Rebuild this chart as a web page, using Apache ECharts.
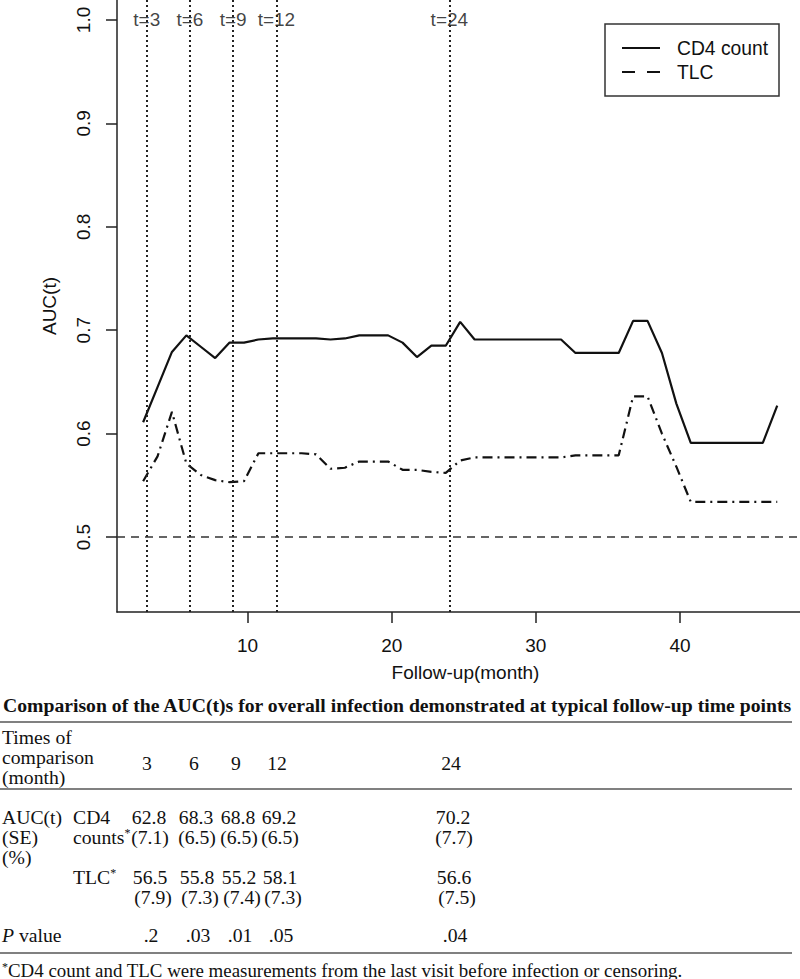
<!DOCTYPE html>
<html><head><meta charset="utf-8">
<script src="https://cdn.jsdelivr.net/npm/echarts@6/dist/echarts.min.js"></script>
<style>html,body{margin:0;padding:0;background:#fff}#c{width:800px;height:979px}</style>
</head><body><div id="c"></div>
<script>
// ---- data ----
const months = [2.75,3.75,4.75,5.75,6.75,7.75,8.75,9.75,10.75,11.75,12.75,13.75,14.75,15.75,16.75,17.75,18.75,19.75,20.75,21.75,22.75,23.75,24.75,25.75,26.75,27.75,28.75,29.75,30.75,31.75,32.75,33.75,34.75,35.75,36.75,37.75,38.75,39.75,40.75,41.75,42.75,43.75,44.75,45.75,46.75];
const cd4Auc = [0.611,0.645,0.679,0.695,0.684,0.673,0.688,0.688,0.691,0.692,0.692,0.692,0.692,0.691,0.692,0.695,0.695,0.695,0.688,0.674,0.685,0.685,0.708,0.691,0.691,0.691,0.691,0.691,0.691,0.691,0.678,0.678,0.678,0.678,0.709,0.709,0.678,0.629,0.591,0.591,0.591,0.591,0.591,0.591,0.627];
const tlcAuc = [0.554,0.578,0.621,0.571,0.560,0.555,0.553,0.554,0.581,0.581,0.581,0.581,0.580,0.566,0.567,0.573,0.573,0.573,0.565,0.565,0.563,0.562,0.574,0.577,0.577,0.577,0.577,0.577,0.577,0.577,0.579,0.579,0.579,0.579,0.636,0.636,0.600,0.568,0.534,0.534,0.534,0.534,0.534,0.534,0.534];
const cutTimes = [3,6,9,12,24];
const refLine = 0.5;
const xTicks = [10,20,30,40];
const yTicks = [0.5,0.6,0.7,0.8,0.9,1.0];
const seriesNames = ['CD4 count','TLC'];

const tableTitle = 'Comparison of the AUC(t)s for overall infection demonstrated at typical follow-up time points';
const tableTimes = ['3','6','9','12','24'];
const cd4Est = ['62.8','68.3','68.8','69.2','70.2'];
const cd4Se = ['(7.1)','(6.5)','(6.5)','(6.5)','(7.7)'];
const tlcEst = ['56.5','55.8','55.2','58.1','56.6'];
const tlcSe = ['(7.9)','(7.3)','(7.4)','(7.3)','(7.5)'];
const pValues = ['.2','.03','.01','.05','.04'];
const footnote = 'CD4 count and TLC were measurements from the last visit before infection or censoring.';

// ---- styling ----
const sans = '"Liberation Sans", Arial, Helvetica, sans-serif';
const serif = '"Liberation Serif", "Times New Roman", serif';
const ink = '#111';
const axisCol = '#222';

const chart = echarts.init(document.getElementById('c'), null, {renderer: 'svg'});

const colX = [149, 196, 238, 279, 453];
const fs = 19;
const tfs = 19.7;

function T(x, y, text, o) {
  o = o || {};
  return {
    type: 'text', x: x, y: y, silent: true,
    style: {
      text: text, fill: ink,
      font: (o.style || 'normal') + ' ' + (o.weight || 'normal') + ' ' + (o.size || tfs) + 'px ' + (o.family || serif),
      textAlign: o.align || 'left', textVerticalAlign: 'middle',
      rich: o.rich
    }
  };
}
function supRich(size) {
  return {
    a: {fontFamily: serif, fontSize: size || tfs, color: ink},
    s: {fontFamily: serif, fontSize: 12, verticalAlign: 'top', color: ink}
  };
}
function hline(y, x2) {
  return {type: 'line', silent: true, shape: {x1: 0, y1: y, x2: x2, y2: y}, style: {stroke: '#808080', lineWidth: 2}};
}

const graphics = [];
// legend
graphics.push({type: 'rect', silent: true, shape: {x: 605, y: 24, width: 174, height: 72}, style: {fill: '#fff', stroke: '#333', lineWidth: 1.5}, z: 10});
graphics.push({type: 'line', silent: true, shape: {x1: 622, y1: 48, x2: 660, y2: 48}, style: {stroke: ink, lineWidth: 2.2}, z: 11});
graphics.push({type: 'line', silent: true, shape: {x1: 622, y1: 72, x2: 660, y2: 72}, style: {stroke: ink, lineWidth: 2.2, lineDash: [13, 12]}, z: 11});
graphics.push(Object.assign(T(677, 48, seriesNames[0], {family: sans, size: 19.3}), {z: 11}));
graphics.push(Object.assign(T(677, 72, seriesNames[1], {family: sans, size: 19.3}), {z: 11}));

// table
graphics.push(T(3, 705, tableTitle, {weight: 'bold', size: 19.7}));
graphics.push(hline(722, 792));
graphics.push(T(2, 737, 'Times of'));
graphics.push(T(2, 757, 'comparison'));
graphics.push(T(2, 777, '(month)'));
tableTimes.forEach((t, i) => graphics.push(T(colX[i] - 2, 763, t, {align: 'center'})));
graphics.push(hline(789, 792));
graphics.push(T(2, 817, 'AUC(t)'));
graphics.push(T(2, 837, '(SE)'));
graphics.push(T(2, 857, '(%)'));
graphics.push(T(73, 817, 'CD4'));
graphics.push(T(73, 837, '{a|counts}{s|*}', {rich: supRich()}));
graphics.push(T(73, 877, '{a|TLC}{s|*}', {rich: supRich()}));
cd4Est.forEach((v, i) => graphics.push(T(colX[i], 817, v, {align: 'center'})));
cd4Se.forEach((v, i) => graphics.push(T(colX[i] + 1, 837, v, {align: 'center'})));
tlcEst.forEach((v, i) => graphics.push(T(colX[i] + 1, 877, v, {align: 'center'})));
tlcSe.forEach((v, i) => graphics.push(T(colX[i] + 4, 897, v, {align: 'center'})));
graphics.push(T(2, 935, '{i|P}{a| value}', {rich: {
  i: {fontFamily: serif, fontSize: tfs, fontStyle: 'italic', color: ink},
  a: {fontFamily: serif, fontSize: tfs, color: ink}
}}));
pValues.forEach((v, i) => graphics.push(T(colX[i] + 2, 935, v, {align: 'center'})));
graphics.push(hline(953, 792));
graphics.push(T(2, 970, '{s|*}{a|' + footnote + '}', {rich: supRich(18.9)}));

const option = {
  animation: false,
  backgroundColor: '#fff',
  grid: {left: 117, right: 0, top: 0, bottom: 367, containLabel: false},
  xAxis: {
    type: 'value', min: 0.937, max: 48.33,
    axisLine: {show: true, onZero: false, lineStyle: {color: axisCol, width: 1.5}},
    axisTick: {show: true, length: 11, customValues: xTicks, lineStyle: {color: axisCol, width: 1.5}},
    axisLabel: {customValues: xTicks, margin: 24, fontSize: fs, color: ink, fontFamily: sans},
    splitLine: {show: false},
    name: 'Follow-up(month)', nameLocation: 'middle', nameGap: 51,
    nameTextStyle: {fontSize: fs, color: ink, fontFamily: sans, padding: [0, 0, 0, 14]}
  },
  yAxis: {
    type: 'value', min: 0.4275, max: 1.0193,
    axisLine: {show: true, onZero: false, lineStyle: {color: axisCol, width: 1.5}},
    axisTick: {show: true, length: 11, customValues: yTicks, lineStyle: {color: axisCol, width: 1.5}},
    axisLabel: {customValues: yTicks, rotate: 90, margin: 24, fontSize: fs, color: ink, fontFamily: sans,
      formatter: v => Number(v).toFixed(1)},
    splitLine: {show: false},
    name: 'AUC(t)', nameLocation: 'middle', nameGap: 58, nameRotate: 90,
    nameTextStyle: {fontSize: fs, color: ink, fontFamily: sans}
  },
  series: [
    {
      name: seriesNames[0], type: 'line', symbol: 'none', silent: true,
      data: months.map((m, i) => [m, cd4Auc[i]]),
      lineStyle: {color: ink, width: 2.2},
      markLine: {
        silent: true, symbol: 'none', label: {show: false}, animation: false,
        data: cutTimes.map(t => ({xAxis: t, lineStyle: {type: [2, 3], color: '#222', width: 2}}))
          .concat([{yAxis: refLine, lineStyle: {type: [8, 6], color: '#333', width: 1.5}}])
      }
    },
    {
      name: seriesNames[1], type: 'line', symbol: 'none', silent: true,
      data: months.map((m, i) => [m, tlcAuc[i]]),
      lineStyle: {color: ink, width: 2.2, type: [10, 5, 2, 5]}
    },
    {
      type: 'scatter', silent: true, symbolSize: 1, itemStyle: {color: 'rgba(0,0,0,0)'},
      data: cutTimes.map(t => [t, 1.0]),
      label: {show: true, position: 'inside', formatter: p => 't=' + p.value[0], fontSize: fs, color: ink, fontFamily: sans}
    }
  ],
  graphic: graphics
};
chart.setOption(option);
</script></body></html>
